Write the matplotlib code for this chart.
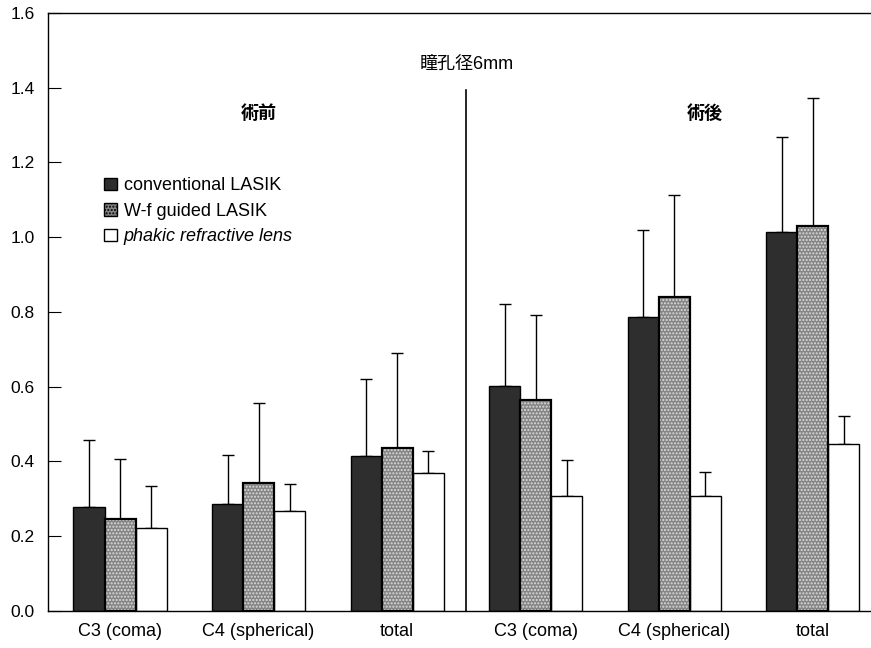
import numpy as np
import matplotlib
matplotlib.use('Agg')
import matplotlib.pyplot as plt
from matplotlib.patches import Patch

plt.rcParams['font.family'] = ['Liberation Sans', 'Noto Sans CJK JP', 'DejaVu Sans']

categories = ['C3 (coma)', 'C4 (spherical)', 'total', 'C3 (coma)', 'C4 (spherical)', 'total']
series_names = ['conventional LASIK', 'W-f guided LASIK', 'phakic refractive lens']
# means (pre-op 3 groups, post-op 3 groups)
conv_mean = [0.279, 0.286, 0.415, 0.602, 0.787, 1.015]
wf_mean = [0.246, 0.342, 0.435, 0.564, 0.841, 1.031]
prl_mean = [0.223, 0.268, 0.370, 0.307, 0.308, 0.447]
# top of error bar
conv_top = [0.457, 0.417, 0.620, 0.821, 1.018, 1.269]
wf_top = [0.407, 0.557, 0.691, 0.792, 1.113, 1.372]
prl_top = [0.334, 0.341, 0.429, 0.404, 0.372, 0.522]
yticks = [0.0, 0.2, 0.4, 0.6, 0.8, 1.0, 1.2, 1.4, 1.6]

fig = plt.figure(figsize=(8.71, 6.48), dpi=100)
ax = fig.add_axes([0.0551, 0.0571, 0.9449, 0.923])

x = np.arange(len(categories))
w = 0.224

def draw(xpos, mean, top, face, hatch=None):
    mean = np.array(mean)
    err = np.array(top) - mean
    if hatch:
        ax.bar(xpos, mean, w, color=face, hatch=hatch, edgecolor='#dcdcdc', linewidth=0, zorder=2)
        ax.bar(xpos, mean, w, fill=False, edgecolor='black', linewidth=1.6, zorder=3)
    else:
        ax.bar(xpos, mean, w, color=face, edgecolor='black', linewidth=1.0, zorder=2)
    ax.errorbar(xpos, mean, yerr=[np.zeros_like(err), err], fmt='none', ecolor='black',
                elinewidth=1.0, capsize=4.3, capthick=1.0, zorder=1)

draw(x - w, conv_mean, conv_top, '#2e2e2e')
draw(x, wf_mean, wf_top, '#858585', hatch='.....')
draw(x + w, prl_mean, prl_top, 'white')

ax.set_xlim(-0.52, 5.42)
ax.set_ylim(0, 1.6)
ax.set_yticks(yticks)
ax.set_yticklabels(['%.1f' % t for t in yticks], fontsize=12.5)
ax.tick_params(axis='y', direction='in', length=9, width=0.8, pad=9.5)
ax.set_xticks(x)
ax.set_xticklabels(categories, fontsize=13)
ax.tick_params(axis='x', length=0, pad=9)
ax.spines['right'].set_visible(False)
for s in ['left', 'top', 'bottom']:
    ax.spines[s].set_linewidth(1.0)

# divider between pre and post
ax.plot([2.5, 2.5], [0, 1.395], color='black', linewidth=1.2, zorder=1)

ax.text(2.5, 1.462, '瞳孔径6mm', ha='center', va='center', fontsize=13)
ax.text(1.0, 1.33, '術前', ha='center', va='center', fontsize=13, fontweight='bold')
ax.text(4.22, 1.33, '術後', ha='center', va='center', fontsize=13, fontweight='bold')

handles = [Patch(facecolor='#2e2e2e', edgecolor='black', linewidth=1.0),
           Patch(facecolor='#858585', edgecolor='black', hatch='.....', linewidth=1.0),
           Patch(facecolor='white', edgecolor='black', linewidth=1.0)]
leg = ax.legend(handles, series_names, loc='upper left', bbox_to_anchor=(0.068, 0.725),
                frameon=False, fontsize=13, handlelength=0.75, handleheight=0.7,
                handletextpad=0.35, labelspacing=0.47, borderaxespad=0, borderpad=0)
leg.get_texts()[2].set_fontstyle('italic')

fig.savefig('out.png', dpi=100)
